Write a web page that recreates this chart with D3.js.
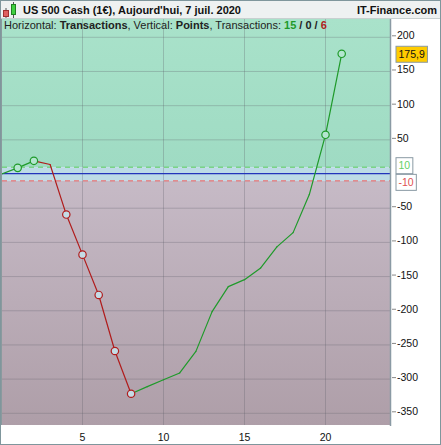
<!DOCTYPE html>
<html><head><meta charset="utf-8">
<script src="https://cdn.jsdelivr.net/npm/d3@7"></script>
<style>body{margin:0;background:#fff}svg{display:block;font-family:"Liberation Sans",Arial,sans-serif}</style>
</head><body><svg id="c" width="441" height="445"></svg>
<script>
const transactions = [0,1,2,3,4,5,6,7,8,9,10,11,12,13,14,15,16,17,18,19,20,21];
const points = [0,9,19.3,13.9,-59.3,-117.9,-176.9,-258.9,-321.4,-311,-301,-291,-259.4,-201.3,-164.7,-154.5,-137.3,-106.6,-85.7,-30,57.4,175.9];
const marked = [1,2,4,5,6,7,8,20,21];
const yTicks = [200,150,100,50,-50,-100,-150,-200,-250,-300,-350];
const xTicks = [5,10,15,20];
const bands = [10,-10];
const lastLabel = "175,9";

const svg = d3.select("#c");
const L=2, R=390, T=19, B=425;
const x = d3.scaleLinear().domain([0,24]).range([1.5,390.3]);
const y = d3.scaleLinear().domain([-350,200]).range([413.3,37.3]);

const defs = svg.append("defs");
const gG = defs.append("linearGradient").attr("id","gG").attr("x1",0).attr("y1",0).attr("x2",0).attr("y2",1);
gG.append("stop").attr("offset","0%").attr("stop-color","#a9e2ca");
gG.append("stop").attr("offset","100%").attr("stop-color","#9fdbc3");
const gM = defs.append("linearGradient").attr("id","gM").attr("x1",0).attr("y1",0).attr("x2",0).attr("y2",1);
gM.append("stop").attr("offset","0%").attr("stop-color","#c6bac6");
gM.append("stop").attr("offset","100%").attr("stop-color","#ae9ea8");
defs.append("clipPath").attr("id","clip").append("rect").attr("x",L).attr("y",T).attr("width",R-L).attr("height",B-T);

// title bar
svg.append("rect").attr("x",0).attr("y",0).attr("width",441).attr("height",445).attr("fill","#fff");
svg.append("rect").attr("x",0).attr("y",0).attr("width",441).attr("height",T).attr("fill","#eef1f1");
// icon
svg.append("line").attr("x1",6).attr("x2",6).attr("y1",8).attr("y2",18).attr("stroke","#555");
svg.append("rect").attr("x",3.5).attr("y",10.5).attr("width",5).attr("height",6).attr("fill","#e06060").attr("stroke","#a03030");
svg.append("line").attr("x1",13.5).attr("x2",13.5).attr("y1",2).attr("y2",18).attr("stroke","#555");
svg.append("rect").attr("x",11.5).attr("y",4.5).attr("width",4).attr("height",10).attr("fill","#40d040").attr("stroke","#208020");
svg.append("text").attr("x",23).attr("y",14).attr("font-size",11).attr("font-weight","bold").attr("fill","#111")
  .text("US 500 Cash (1€), Aujourd'hui, 7 juil. 2020");
svg.append("text").attr("x",437).attr("y",14).attr("text-anchor","end").attr("font-size",11).attr("font-weight","bold").attr("fill","#111")
  .text("IT-Finance.com");

// plot background bands
const plot = svg.append("g").attr("clip-path","url(#clip)");
plot.append("rect").attr("x",L).attr("y",T).attr("width",R-L).attr("height",y(bands[0])-T).attr("fill","url(#gG)");
plot.append("rect").attr("x",L).attr("y",y(bands[0])).attr("width",R-L).attr("height",y(bands[1])-y(bands[0])).attr("fill","#bcdbe6");
plot.append("rect").attr("x",L).attr("y",y(bands[1])).attr("width",R-L).attr("height",B-y(bands[1])).attr("fill","url(#gM)");

// grid
plot.selectAll(".gy").data(yTicks).join("line").attr("x1",L).attr("x2",R).attr("y1",d=>y(d)).attr("y2",d=>y(d))
  .attr("stroke","rgba(90,90,100,0.28)").attr("stroke-width",1);
plot.selectAll(".gx").data(xTicks).join("line").attr("y1",T).attr("y2",B).attr("x1",d=>x(d)).attr("x2",d=>x(d))
  .attr("stroke","rgba(90,90,100,0.28)").attr("stroke-width",1);

// band lines
plot.append("line").attr("x1",L).attr("x2",R).attr("y1",y(bands[0])).attr("y2",y(bands[0])).attr("stroke","#5ccc5c").attr("stroke-dasharray","5,4");
plot.append("line").attr("x1",L).attr("x2",R).attr("y1",y(bands[1])).attr("y2",y(bands[1])).attr("stroke","#f06060").attr("stroke-dasharray","5,4");
plot.append("line").attr("x1",L).attr("x2",R).attr("y1",y(0)-0.5).attr("y2",y(0)-0.5).attr("stroke","#2233bb").attr("stroke-width",1.2);

// segments
const segs = d3.range(1,transactions.length).map(i=>({a:i-1,b:i,up:points[i]>=points[i-1]}));
plot.selectAll(".seg").data(segs).join("line")
  .attr("x1",d=>x(transactions[d.a])).attr("y1",d=>y(points[d.a]))
  .attr("x2",d=>x(transactions[d.b])).attr("y2",d=>y(points[d.b]))
  .attr("stroke",d=>d.up?"#1f9a2a":"#b01c1c").attr("stroke-width",1.2).attr("stroke-linecap","round");

plot.selectAll(".pt").data(marked).join("circle")
  .attr("cx",i=>x(transactions[i])).attr("cy",i=>y(points[i])).attr("r",3.7)
  .attr("fill",i=>points[i]>=points[i-1]?"#b4e6d0":"#c4dce6")
  .attr("stroke",i=>points[i]>=points[i-1]?"#1f9a2a":"#b01c1c").attr("stroke-width",1.2);

// legend text
const lt = svg.append("text").attr("x",4).attr("y",29).attr("font-size",11).attr("fill","#222");
lt.append("tspan").text("Horizontal: ");
lt.append("tspan").attr("font-weight","bold").text("Transactions");
lt.append("tspan").text(", Vertical: ");
lt.append("tspan").attr("font-weight","bold").text("Points");
lt.append("tspan").text(", Transactions: ");
lt.append("tspan").attr("font-weight","bold").attr("fill","#1f9a2a").text("15");
lt.append("tspan").attr("font-weight","bold").text(" / 0 / ");
lt.append("tspan").attr("font-weight","bold").attr("fill","#b01c1c").text("6");

// borders
svg.append("line").attr("x1",1).attr("x2",1).attr("y1",T).attr("y2",B).attr("stroke","#8a9a9e").attr("stroke-width",2);
svg.append("line").attr("x1",0).attr("x2",441).attr("y1",T-0.5).attr("y2",T-0.5).attr("stroke","#c8d0d0").attr("stroke-width",1);
svg.append("line").attr("x1",R+0.5).attr("x2",R+0.5).attr("y1",T).attr("y2",B+1).attr("stroke","#8a9aa4").attr("stroke-width",1.5);

// y axis
const ya = svg.append("g");
ya.selectAll("line").data(yTicks).join("line").attr("x1",R+2).attr("x2",R+6).attr("y1",d=>y(d)-1.5).attr("y2",d=>y(d)-1.5).attr("stroke","#888");
ya.selectAll("text").data(yTicks).join("text").attr("x",R+7).attr("y",d=>y(d)+2).attr("font-size",10.5).attr("fill","#111").text(d=>d);

// x axis
svg.selectAll(".xt").data(xTicks).join("text").attr("x",d=>x(d)).attr("y",441).attr("text-anchor","middle").attr("font-size",10.5).attr("fill","#111").text(d=>d);

// value boxes
function box(v, txt, fill, col, dy){
  const t = svg.append("text").attr("x",398.5).attr("y",y(v)+dy+4).attr("font-size",10.5).attr("fill",col).text(txt);
  const bb = t.node().getBBox();
  svg.insert("rect", () => t.node()).attr("x",bb.x-2.5).attr("y",y(v)+dy-7.5).attr("width",bb.width+5).attr("height",16)
    .attr("fill",fill).attr("stroke","#8a9aa4");
}
box(points[points.length-1], lastLabel, "#ffcc00", "#111", 0);
box(bands[0], "10", "#ffffff", "#66d066", -2);
box(bands[1], "-10", "#ffffff", "#e05050", 1);

// outer border
svg.append("rect").attr("x",0.5).attr("y",0.5).attr("width",440).attr("height",444).attr("fill","none").attr("stroke","#7f969c");
</script></body></html>
